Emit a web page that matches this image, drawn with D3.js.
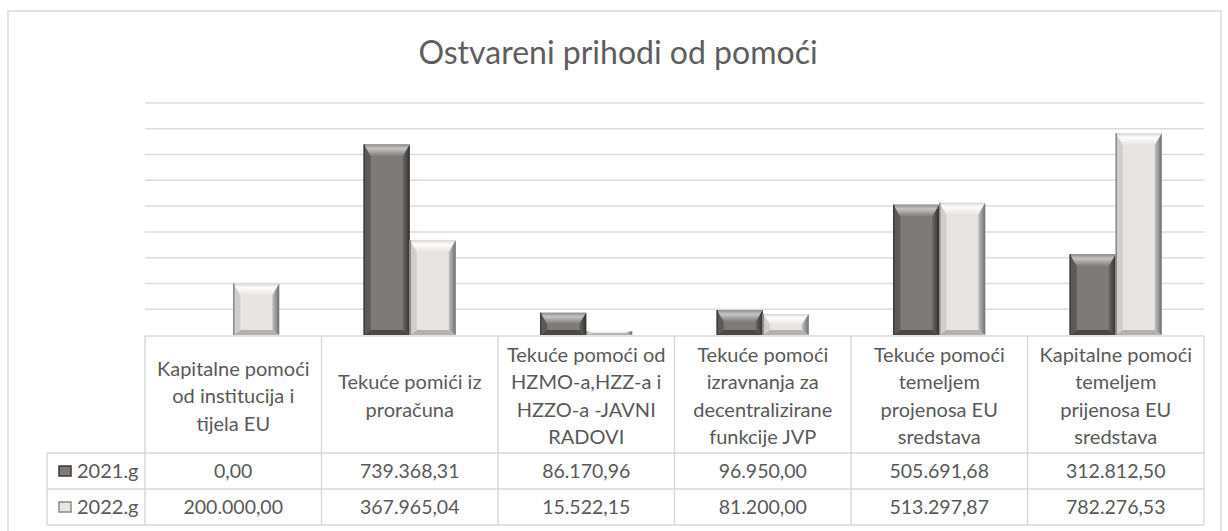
<!DOCTYPE html>
<html>
<head>
<meta charset="utf-8">
<script src="https://cdn.jsdelivr.net/npm/d3@7"></script>
<style>
  body { margin: 0; background: #fff; }
  svg { display: block; font-family: Lato, "Open Sans", sans-serif; }
</style>
</head>
<body>
<div id="chart"></div>
<script>
// data
var title = "Ostvareni prihodi od pomoći";
var categoryLines = [
  ["Kapitalne pomoći", "od institucija i", "tijela EU"],
  ["Tekuće pomići iz", "proračuna"],
  ["Tekuće pomoći od", "HZMO-a,HZZ-a i", "HZZO-a -JAVNI", "RADOVI"],
  ["Tekuće pomoći", "izravnanja za", "decentralizirane", "funkcije JVP"],
  ["Tekuće pomoći", "temeljem", "projenosa EU", "sredstava"],
  ["Kapitalne pomoći", "temeljem", "prijenosa EU", "sredstava"]
];
var seriesNames = ["2021.g", "2022.g"];
var values2021 = [0, 739368.31, 86170.96, 96950.00, 505691.68, 312812.50];
var values2022 = [200000.00, 367965.04, 15522.15, 81200.00, 513297.87, 782276.53];
var yMax = 900000;

var W = 1228, H = 531;
var plotL = 145, plotR = 1204, plotT = 103, plotB = 335;
var headerB = 453, rowH = 36, legendL = 47;

var hrFormat = d3.formatLocale({decimal: ",", thousands: ".", grouping: [3], currency: ["", ""]}).format(",.2f");

var svg = d3.select("#chart").append("svg")
  .attr("width", W)
  .attr("height", H);

var defs = svg.append("defs");

// bevel palettes
var palettes = [
  {base: "#7d7a78", top: ["#8f8d8b", "#c6c4c2", "#7d7a78"], left: "#5d5b59", right: ["#6a6866", "#323130"], bottom: "#4b4948"},
  {base: "#e6e5e3", top: ["#d8d7d5", "#fdfdfc", "#e6e5e3"], left: "#cfcecc", right: ["#c4c3c1", "#6f6e6c"], bottom: "#b3b2b0"}
];

palettes.forEach(function(p, i) {
  var gt = defs.append("linearGradient").attr("id", "top" + i)
    .attr("x1", 0).attr("y1", 0).attr("x2", 0).attr("y2", 1);
  gt.append("stop").attr("offset", "0%").attr("stop-color", p.top[0]);
  gt.append("stop").attr("offset", "35%").attr("stop-color", p.top[1]);
  gt.append("stop").attr("offset", "100%").attr("stop-color", p.top[2]);
  var gr = defs.append("linearGradient").attr("id", "right" + i)
    .attr("x1", 0).attr("y1", 0).attr("x2", 1).attr("y2", 0);
  gr.append("stop").attr("offset", "0%").attr("stop-color", p.right[0]);
  gr.append("stop").attr("offset", "100%").attr("stop-color", p.right[1]);
});

// outer frame
svg.append("rect")
  .attr("x", 8).attr("y", 11)
  .attr("width", 1213).attr("height", 540)
  .attr("fill", "none")
  .attr("stroke", "#e3e3e3")
  .attr("stroke-width", 2);

// title
svg.append("text")
  .attr("x", 618)
  .attr("y", 64)
  .attr("text-anchor", "middle")
  .attr("fill", "#5e5e5e")
  .style("font-size", "32px")
  .text(title);

// scales
var x0 = d3.scaleBand()
  .domain(d3.range(categoryLines.length))
  .range([plotL, plotR])
  .padding(0);

var pad = x0.bandwidth() * 0.2394;
var x1 = d3.scaleBand()
  .domain([0, 1])
  .range([pad, x0.bandwidth() - pad]);

var y = d3.scaleLinear()
  .domain([0, yMax])
  .range([plotB, plotT]);

// gridlines
svg.append("g").selectAll("line")
  .data(y.ticks(9).filter(function(d) { return d > 0; }))
  .enter().append("line")
  .attr("x1", plotL).attr("x2", plotR)
  .attr("y1", function(d) { return y(d); })
  .attr("y2", function(d) { return y(d); })
  .attr("stroke", "#dcdcdc")
  .attr("stroke-width", 1.5);

// bars
var barData = [];
categoryLines.forEach(function(c, ci) {
  [values2021, values2022].forEach(function(vals, si) {
    barData.push({c: ci, s: si, v: vals[ci]});
  });
});

function poly(pts) {
  return "M" + pts.map(function(p) { return p[0] + "," + p[1]; }).join("L") + "Z";
}

var bars = svg.append("g").selectAll("g")
  .data(barData.filter(function(d) { return d.v > 0; }))
  .enter().append("g")
  .each(function(d) {
    var g = d3.select(this);
    var p = palettes[d.s];
    var xa = x0(d.c) + x1(d.s), w = x1.bandwidth();
    var ya = y(d.v), yb = y(0), h = yb - ya;
    var b = Math.min(7, w / 2);
    var bt = Math.min(12, h / 2), bb = Math.min(5, h / 2);
    var xb = xa + w;
    g.append("rect").attr("x", xa).attr("y", ya).attr("width", w).attr("height", h).attr("fill", p.base);
    g.append("path").attr("d", poly([[xa, ya], [xb, ya], [xb - b, ya + bt], [xa + b, ya + bt]])).attr("fill", "url(#top" + d.s + ")");
    g.append("path").attr("d", poly([[xa, yb], [xb, yb], [xb - b, yb - bb], [xa + b, yb - bb]])).attr("fill", p.bottom);
    g.append("path").attr("d", poly([[xa, ya], [xa + b, ya + bt], [xa + b, yb - bb], [xa, yb]])).attr("fill", p.left);
    g.append("path").attr("d", poly([[xb, ya], [xb - b, ya + bt], [xb - b, yb - bb], [xb, yb]])).attr("fill", "url(#right" + d.s + ")");
    g.append("line").attr("x1", xa + 0.5).attr("x2", xa + 0.5).attr("y1", ya).attr("y2", yb)
      .attr("stroke", d.s === 0 ? "#3e3d3c" : "#8a8987").attr("stroke-width", 1.5);
  });

// data table
var tbl = svg.append("g").attr("stroke", "#d9d9d9").attr("stroke-width", 1.5);
var rowYs = [headerB, headerB + rowH, headerB + 2 * rowH];
tbl.append("line").attr("x1", plotL).attr("x2", plotR).attr("y1", plotB + 1).attr("y2", plotB + 1);
rowYs.forEach(function(yy) {
  tbl.append("line").attr("x1", legendL).attr("x2", plotR).attr("y1", yy).attr("y2", yy);
});
tbl.append("line").attr("x1", legendL).attr("x2", legendL).attr("y1", headerB).attr("y2", rowYs[2]);
d3.range(categoryLines.length + 1).forEach(function(i) {
  var xx = i < categoryLines.length ? x0(i) : plotR;
  tbl.append("line").attr("x1", xx).attr("x2", xx).attr("y1", plotB + 1).attr("y2", rowYs[2]);
});

var textCol = "#595959";
var lineH = 27.5;
var headerMid = 396;

svg.append("g").selectAll("text")
  .data(categoryLines)
  .enter().append("text")
  .attr("text-anchor", "middle")
  .attr("fill", textCol)
  .style("font-size", "20px")
  .each(function(lines, i) {
    var t = d3.select(this);
    var start = headerMid - (lines.length - 1) * lineH / 2;
    lines.forEach(function(l, k) {
      t.append("tspan")
        .attr("x", x0(i) + x0.bandwidth() / 2)
        .attr("y", start + k * lineH)
        .attr("dy", "0.35em")
        .text(l);
    });
  });

[values2021, values2022].forEach(function(vals, si) {
  var cy = headerB + rowH * si + rowH / 2;
  svg.append("g").selectAll("text")
    .data(vals)
    .enter().append("text")
    .attr("x", function(d, i) { return x0(i) + x0.bandwidth() / 2; })
    .attr("y", cy)
    .attr("dy", "0.35em")
    .attr("text-anchor", "middle")
    .attr("fill", textCol)
    .style("font-size", "19.5px")
    .text(function(d) { return hrFormat(d); });

  // legend key
  var p = palettes[si];
  svg.append("rect")
    .attr("x", 59).attr("y", cy - 5)
    .attr("width", 12).attr("height", 10)
    .attr("fill", p.base)
    .attr("stroke", si === 0 ? "#3a3938" : "#8a8987")
    .attr("stroke-width", 1.5);
  svg.append("text")
    .attr("x", 77)
    .attr("y", cy)
    .attr("dy", "0.35em")
    .attr("fill", textCol)
    .style("font-size", "20px")
    .text(seriesNames[si]);
});
</script>
</body>
</html>
